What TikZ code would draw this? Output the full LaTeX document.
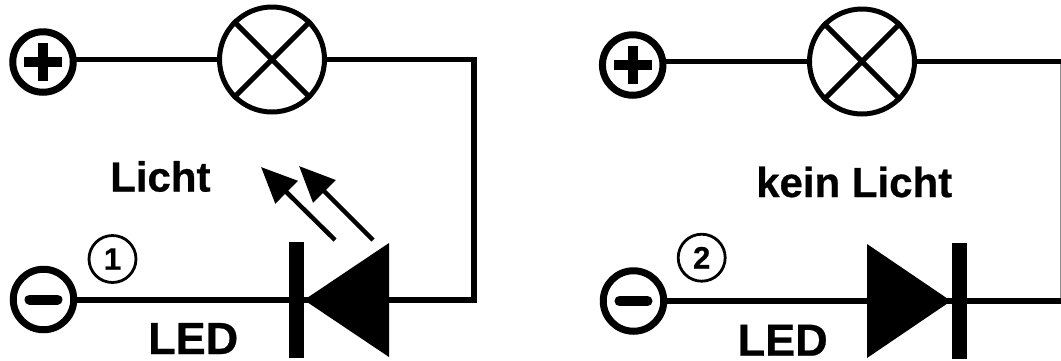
\documentclass[tikz,border=0pt]{standalone}
\usepackage{fontspec}
\setmainfont[BoldFeatures={FakeBold=0.6}]{Liberation Sans}
\usetikzlibrary{arrows.meta}
\tikzset{
  x=1pt,y=-1pt,
  wire/.style={line width=5.5pt,line join=miter},
  terminal/.style={circle,draw,line width=7pt,minimum size=60.5pt,inner sep=0pt,fill=white},
  signmark/.style={line width=10pt,line cap=round},
  lampring/.style={circle,draw,line width=5pt,minimum size=105pt,inner sep=0pt,fill=white},
  lampcross/.style={line width=5pt},
  numring/.style={circle,draw,line width=2.8pt,minimum size=47pt,inner sep=0pt,font=\bfseries\fontsize{31}{31}\selectfont},
  label/.style={anchor=base west,inner sep=0pt,font=\bfseries\fontsize{42}{42}\selectfont},
  ledlabel/.style={anchor=base west,inner sep=0pt,font=\bfseries\fontsize{45}{45}\selectfont},
  diodebar/.style={draw=none,fill=black,minimum width=15pt,minimum height=116pt,inner sep=0pt,outer sep=0pt},
  lightray/.style={line width=4.5pt,-{Triangle[length=36pt,width=31pt]}},
  sideline/.style={line width=1pt,draw=black!45}
}
\begin{document}
\begin{tikzpicture}
\useasboundingbox (0,0) rectangle (1061,360);
% left circuit
\coordinate (topcornerA) at (474,59.5);
\coordinate (botcornerA) at (474,300);
\coordinate (tipA) at (304,300);
\coordinate (baseA) at (389,300);
\coordinate (upA) at (389,243);
\coordinate (downA) at (389,357);
\coordinate (lampAc) at (272,59.5);
\coordinate (plusAc) at (43,62);
\coordinate (minusAc) at (43.5,299.5);
\draw[wire] (plusAc |- lampAc) -- (lampAc);
\draw[wire] (lampAc) -- (topcornerA) -- (botcornerA) -- (baseA);
\draw[wire] (minusAc |- botcornerA) -- (botcornerA);
\node[terminal] (plusA) at (plusAc) {};
\node[terminal] (minusA) at (minusAc) {};
\node[lampring] (lampA) at (lampAc) {};
\node[diodebar] (barA) at (296.5,300) {};
\fill (tipA) -- (upA) -- (downA) -- cycle;
\draw[lampcross] (lampA.45) -- (lampA.225);
\draw[lampcross] (lampA.135) -- (lampA.315);
\draw[signmark,line cap=butt] ([xshift=-19pt]plusA.center) -- ([xshift=19pt]plusA.center);
\draw[signmark,line cap=butt] ([yshift=-19pt]plusA.center) -- ([yshift=19pt]plusA.center);
\draw[signmark] ([xshift=-14pt]minusA.center) -- ([xshift=14pt]minusA.center);
\coordinate (rayA1s) at (335,240);
\coordinate (rayA1e) at (261,167);
\coordinate (rayA2s) at (373,240);
\coordinate (rayA2e) at (299,166);
\draw[lightray] (rayA1s) -- (rayA1e);
\draw[lightray] (rayA2s) -- (rayA2e);
\node[numring] (numA) at (112.5,259) {1};
\node[label] (lichtA) at (110,191.5) {Licht};
\node[ledlabel] (ledA) at (148,354) {LED};
% right circuit
\coordinate (lampBc) at (862,61.5);
\coordinate (plusBc) at (632.7,65);
\coordinate (minusBc) at (633.5,301);
\coordinate (tipB) at (951,301);
\coordinate (baseB) at (867,301);
\coordinate (upB) at (867,244);
\coordinate (downB) at (867,358);
\coordinate (topcornerB) at (1061,61.5);
\coordinate (botcornerB) at (1061,301);
\coordinate (sideB1) at (1060.5,62);
\coordinate (sideB2) at (1060.5,301);
\draw[sideline] (sideB1) -- (sideB2);
\draw[wire] (plusBc |- lampBc) -- (lampBc) -- (topcornerB);
\draw[wire] (minusBc) -- (botcornerB);
\node[terminal] (plusB) at (plusBc) {};
\node[terminal] (minusB) at (minusBc) {};
\node[lampring] (lampB) at (lampBc) {};
\node[diodebar] (barB) at (959.2,301) {};
\fill (tipB) -- (upB) -- (downB) -- cycle;
\draw[lampcross] (lampB.45) -- (lampB.225);
\draw[lampcross] (lampB.135) -- (lampB.315);
\draw[signmark,line cap=butt] ([xshift=-19pt]plusB.center) -- ([xshift=19pt]plusB.center);
\draw[signmark,line cap=butt] ([yshift=-19pt]plusB.center) -- ([yshift=19pt]plusB.center);
\draw[signmark] ([xshift=-14pt]minusB.center) -- ([xshift=14pt]minusB.center);
\node[numring] (numB) at (701.7,257.7) {2};
\node[label] (lichtB) at (756,197) {kein Licht};
\node[ledlabel] (ledB) at (737.5,355.7) {LED};
\end{tikzpicture}
\end{document}
